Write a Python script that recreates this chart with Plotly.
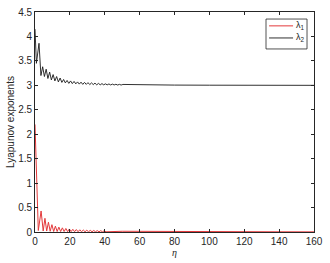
import plotly.graph_objects as go

# lambda_2 (black)
lam2_eta = [0, 0.8, 2.3, 3.4, 4.4, 5.4, 6.4, 7.4, 8.4, 9.4, 10.4, 11.4, 12.4, 13.4,
            14.4, 15.4, 16.4, 17.4, 18.4, 19.4, 20.4, 21.4, 22.4, 23.4, 24.4, 25.4,
            26.4, 27.4, 28.4, 29.4, 30.4, 31.4, 32.4, 33.4, 34.4, 35.4, 36.4, 37.4,
            38.4, 39.4, 40.4, 41.4, 42.4, 43.4, 44.4, 45.4, 46.4, 47.4, 48.4, 49.4,
            50.4, 60, 80, 100, 120, 140, 160]
lam2_val = [4.15, 3.45, 3.86, 3.20, 3.38, 3.18, 3.33, 3.14, 3.27, 3.11, 3.22, 3.09, 3.18, 3.07,
            3.15, 3.06, 3.12, 3.05, 3.10, 3.04, 3.09, 3.035, 3.08, 3.03, 3.07, 3.025,
            3.065, 3.02, 3.06, 3.02, 3.055, 3.015, 3.05, 3.015, 3.045, 3.01, 3.04, 3.01,
            3.035, 3.01, 3.03, 3.01, 3.028, 3.008, 3.025, 3.008, 3.022, 3.006, 3.02, 3.006,
            3.018, 3.01, 3.005, 3.003, 3.002, 3.001, 3.0]

# lambda_1 (red)
lam1_eta = [0, 1.9, 3.5, 4.7, 5.7, 6.7, 7.7, 8.7, 9.7, 10.7, 11.7, 12.7, 13.7, 14.7,
            15.7, 16.7, 17.7, 18.7, 19.7, 20.7, 21.7, 22.7, 23.7, 24.7, 25.7, 26.7,
            27.7, 28.7, 29.7, 30.7, 31.7, 32.7, 33.7, 34.7, 35.7, 36.7, 37.7, 38.7,
            39.7, 40.7, 50, 60, 80, 100, 120, 140, 160]
lam1_val = [2.2, 0.03, 0.43, 0.02, 0.28, 0.02, 0.20, 0.015, 0.15, 0.01, 0.12, 0.01, 0.10, 0.01,
            0.085, 0.01, 0.072, 0.008, 0.062, 0.008, 0.055, 0.007, 0.05, 0.006, 0.045, 0.006,
            0.04, 0.005, 0.037, 0.005, 0.034, 0.005, 0.031, 0.005, 0.029, 0.004, 0.027, 0.004,
            0.025, 0.004, 0.015, 0.012, 0.008, 0.006, 0.005, 0.004, 0.003]

x_ticks = [0, 20, 40, 60, 80, 100, 120, 140, 160]
y_ticks = [0, 0.5, 1, 1.5, 2, 2.5, 3, 3.5, 4, 4.5]
y_tick_text = ["0", "0.5", "1", "1.5", "2", "2.5", "3", "3.5", "4", "4.5"]

RED = "#e3393b"
BLACK = "#1a1a1a"
AX = "#262626"
FONT = "Liberation Sans, Arial, sans-serif"

fig = go.Figure()
fig.add_trace(go.Scatter(x=lam1_eta, y=lam1_val, mode="lines",
                         line=dict(color=RED, width=1), name="λ<sub>1</sub>", showlegend=False))
fig.add_trace(go.Scatter(x=lam2_eta, y=lam2_val, mode="lines",
                         line=dict(color=BLACK, width=0.9), name="λ<sub>2</sub>", showlegend=False))

axis_common = dict(showline=True, linecolor=AX, linewidth=0.8, mirror="ticks",
                   ticks="inside", ticklen=3, tickcolor=AX, tickwidth=0.8,
                   showgrid=False, zeroline=False, automargin=False,
                   tickfont=dict(family=FONT, size=10, color=AX))

fig.update_xaxes(range=[0, 160], tickvals=x_ticks, **axis_common,
                 title=dict(text="<i>η</i>", font=dict(family="Liberation Serif, serif", size=10, color=AX), standoff=1))
fig.update_yaxes(range=[0, 4.5], tickvals=y_ticks, ticktext=y_tick_text, **axis_common,
                 title=dict(text="Lyapunov exponents", font=dict(family=FONT, size=10, color=AX), standoff=1))

# legend box drawn manually to match size
shapes = [
    dict(type="rect", xref="paper", yref="paper", x0=0.828, x1=0.975, y0=0.832, y1=0.968,
         line=dict(color=AX, width=0.8), fillcolor="white"),
    dict(type="line", xref="paper", yref="paper", x0=0.839, x1=0.925, y0=0.937, y1=0.937,
         line=dict(color=RED, width=1)),
    dict(type="line", xref="paper", yref="paper", x0=0.839, x1=0.925, y0=0.882, y1=0.882,
         line=dict(color=BLACK, width=0.9)),
]
annotations = [
    dict(xref="paper", yref="paper", x=0.928, y=0.937, text="λ<sub>1</sub>", showarrow=False,
         xanchor="left", yanchor="middle", font=dict(family=FONT, size=9, color=AX)),
    dict(xref="paper", yref="paper", x=0.928, y=0.882, text="λ<sub>2</sub>", showarrow=False,
         xanchor="left", yanchor="middle", font=dict(family=FONT, size=9, color=AX)),
]

fig.update_layout(width=330, height=263, margin=dict(l=35, r=16, t=12, b=31),
                  paper_bgcolor="white", plot_bgcolor="white",
                  shapes=shapes, annotations=annotations, showlegend=False,
                  font=dict(family=FONT, size=10, color=AX))

fig.write_html("out.html", config={"displayModeBar": False},
               post_script="document.body.style.margin='0';document.body.style.overflow='hidden';")
